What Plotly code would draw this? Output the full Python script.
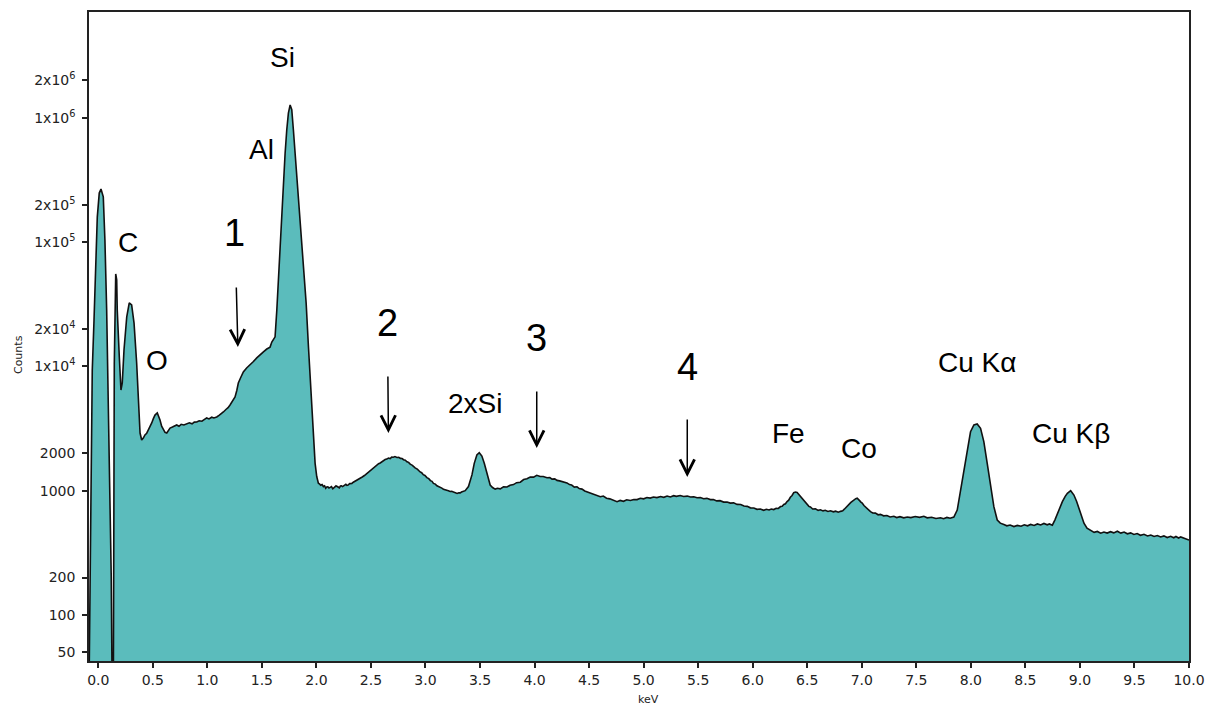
import plotly.graph_objects as go

# ---------------- data ----------------
# noise peak near 0 keV
zero_kev = [-0.086, -0.076, -0.067, -0.055, -0.039, -0.021, -0.009, 0.009, 0.025, 0.046,
            0.061, 0.077, 0.086, 0.098, 0.110, 0.119, 0.128, 0.138]
zero_cts = [20, 202, 1670, 9350, 23600, 86400, 159000, 248000, 267000, 231000,
            104000, 28400, 9350, 3510, 1010, 202, 20, 20]

# C, O, Al shoulder and Si peak
low_kev = [0.147, 0.160, 0.169, 0.174, 0.193, 0.208, 0.220, 0.236, 0.261, 0.284,
           0.306, 0.328, 0.352, 0.367, 0.383, 0.398, 0.413, 0.428, 0.444, 0.459,
           0.475, 0.490, 0.505, 0.520, 0.541, 0.556, 0.566, 0.581, 0.596, 0.612,
           0.628, 0.643, 0.658, 0.680, 0.700, 0.719, 0.740, 0.760, 0.785, 0.811,
           0.835, 0.860, 0.880, 0.903, 0.925, 0.950, 0.970, 0.994, 1.015, 1.040,
           1.060, 1.086, 1.110, 1.130, 1.147, 1.170, 1.190, 1.208, 1.230, 1.254,
           1.270, 1.284, 1.305, 1.330, 1.360, 1.392, 1.420, 1.453, 1.480, 1.514,
           1.545, 1.575, 1.591, 1.621, 1.637, 1.651, 1.667, 1.683, 1.697, 1.713,
           1.728, 1.743, 1.759, 1.774, 1.789, 1.805, 1.820, 1.850, 1.881, 1.906,
           1.927, 1.951, 1.972, 1.988]
low_cts = [10600, 55400, 49600, 28400, 11900, 6460, 7350, 13600, 25000, 32400,
           31200, 22300, 10650, 5080, 2910, 2560, 2650, 2810, 2900, 3080,
           3250, 3510, 3800, 4060, 4220, 3950, 3700, 3300, 3080, 2950,
           2910, 3050, 3190, 3250, 3300, 3380, 3300, 3420, 3380, 3440,
           3520, 3450, 3560, 3570, 3650, 3620, 3720, 3850, 3780, 3900,
           3850, 3920, 4050, 4150, 4300, 4500, 4650, 4890, 5200, 5670,
           6400, 7350, 8100, 9010, 9700, 10260, 10900, 11700, 12400, 13100,
           13800, 14300, 15700, 17300, 28400, 49600, 91700, 171000, 316000, 518000,
           798000, 1090000, 1270000, 1160000, 798000, 518000, 316000, 151000, 71800, 32200,
           14400, 6460, 3080, 1660]

# bumps 2 and 3, 2xSi peak
mid_kev = [2.003, 2.018, 2.030, 2.040, 2.052, 2.064, 2.075, 2.085, 2.095, 2.105,
           2.115, 2.126, 2.138, 2.150, 2.160, 2.170, 2.180, 2.187, 2.198, 2.210,
           2.220, 2.230, 2.240, 2.248, 2.260, 2.270, 2.280, 2.290, 2.305, 2.325,
           2.338, 2.350, 2.362, 2.375, 2.388, 2.401, 2.420, 2.440, 2.460, 2.477,
           2.495, 2.515, 2.535, 2.554, 2.570, 2.585, 2.600, 2.615, 2.630, 2.645,
           2.660, 2.676, 2.690, 2.705, 2.720, 2.738, 2.755, 2.770, 2.785, 2.799,
           2.815, 2.830, 2.845, 2.860, 2.880, 2.905, 2.925, 2.951, 2.965, 2.980,
           2.995, 3.013, 3.030, 3.045, 3.060, 3.073, 3.090, 3.105, 3.120, 3.135,
           3.150, 3.165, 3.180, 3.196, 3.210, 3.226, 3.240, 3.257, 3.275, 3.290,
           3.305, 3.318, 3.330, 3.345, 3.364, 3.394, 3.426, 3.447, 3.471, 3.493,
           3.517, 3.539, 3.563, 3.593, 3.615, 3.639, 3.660, 3.685, 3.715, 3.747,
           3.775, 3.807, 3.835, 3.869, 3.900, 3.930, 3.960, 3.991, 4.020, 4.052,
           4.080, 4.114, 4.140, 4.160, 4.185, 4.206, 4.230, 4.250, 4.275, 4.297,
           4.320, 4.340, 4.365, 4.389, 4.410, 4.435, 4.460, 4.481]
mid_cts = [1300, 1150, 1130, 1105, 1120, 1080, 1095, 1045, 1070, 1075,
           1050, 1065, 1080, 1035, 1060, 1070, 1095, 1085, 1065, 1055,
           1090, 1095, 1080, 1090, 1115, 1125, 1105, 1110, 1140, 1145,
           1170, 1185, 1200, 1215, 1245, 1260, 1290, 1325, 1370, 1410,
           1470, 1500, 1565, 1600, 1650, 1670, 1715, 1735, 1780, 1795,
           1830, 1815, 1865, 1860, 1880, 1850, 1855, 1820, 1815, 1775,
           1760, 1710, 1690, 1635, 1600, 1525, 1490, 1415, 1395, 1345,
           1325, 1275, 1250, 1205, 1190, 1145, 1130, 1095, 1085, 1060,
           1050, 1025, 1020, 1005, 1000, 985, 990, 975, 968, 950,
           962, 960, 975, 980, 1000, 1080, 1340, 1660, 1940, 2020,
           1900, 1660, 1380, 1110, 1060, 1030, 1045, 1035, 1075, 1070,
           1105, 1120, 1160, 1170, 1230, 1250, 1290, 1285, 1330, 1300,
           1300, 1270, 1275, 1240, 1245, 1210, 1200, 1185, 1160, 1155,
           1120, 1110, 1070, 1075, 1040, 1030, 995, 980]

# bump 4, Fe and Co peaks
high_kev = [4.510, 4.540, 4.570, 4.603, 4.630, 4.660, 4.690, 4.720, 4.756, 4.785,
            4.815, 4.845, 4.878, 4.910, 4.940, 4.970, 5.000, 5.030, 5.060, 5.090,
            5.122, 5.155, 5.185, 5.215, 5.245, 5.275, 5.300, 5.335, 5.367, 5.400,
            5.430, 5.460, 5.490, 5.520, 5.550, 5.580, 5.612, 5.640, 5.670, 5.700,
            5.734, 5.765, 5.795, 5.825, 5.857, 5.890, 5.920, 5.950, 5.979, 6.010,
            6.040, 6.070, 6.101, 6.125, 6.150, 6.170, 6.193, 6.215, 6.235, 6.255,
            6.270, 6.285, 6.300, 6.315, 6.330, 6.345, 6.361, 6.376, 6.392, 6.407,
            6.422, 6.445, 6.468, 6.485, 6.500, 6.515, 6.529, 6.550, 6.575, 6.600,
            6.621, 6.645, 6.665, 6.690, 6.713, 6.740, 6.760, 6.785, 6.805, 6.825,
            6.840, 6.855, 6.866, 6.885, 6.900, 6.915, 6.927, 6.945, 6.958, 6.970,
            6.980, 6.992, 7.004, 7.020, 7.040, 7.060, 7.080, 7.100, 7.125, 7.150,
            7.171, 7.200, 7.230, 7.260, 7.294, 7.320, 7.350, 7.385, 7.417, 7.450,
            7.490, 7.530, 7.569, 7.600, 7.640, 7.680, 7.722, 7.750, 7.780, 7.810,
            7.844]
high_cts = [965, 940, 925, 895, 905, 870, 860, 845, 816, 835,
            822, 845, 835, 850, 848, 870, 860, 882, 872, 890,
            880, 898, 885, 905, 890, 912, 900, 915, 898, 905,
            890, 895, 878, 882, 862, 868, 848, 850, 828, 832,
            810, 812, 795, 798, 776, 775, 752, 748, 728, 725,
            708, 712, 695, 708, 700, 712, 705, 722, 720, 745,
            750, 775, 785, 818, 838, 885, 915, 965, 975, 968,
            935, 895, 835, 800, 785, 748, 740, 712, 715, 695,
            702, 688, 695, 680, 690, 676, 685, 672, 682, 690,
            710, 735, 748, 780, 805, 825, 845, 862, 872, 855,
            832, 810, 795, 760, 728, 700, 678, 662, 660, 640,
            645, 628, 632, 615, 622, 608, 618, 605, 615, 608,
            620, 610, 622, 605, 612, 598, 605, 595, 610, 600,
            614]

# Cu K-alpha and K-beta peaks
cu_kev = [7.875, 7.906, 7.936, 7.967, 7.997, 8.028, 8.058, 8.089, 8.119, 8.150,
          8.180, 8.211, 8.242, 8.270, 8.303, 8.330, 8.360, 8.395, 8.426, 8.460,
          8.490, 8.520, 8.548, 8.580, 8.610, 8.640, 8.670, 8.700, 8.720, 8.747,
          8.770, 8.793, 8.815, 8.839, 8.865, 8.885, 8.915, 8.945, 8.970, 8.991,
          9.015, 9.037, 9.065, 9.098, 9.130, 9.160, 9.190, 9.220, 9.250, 9.280,
          9.310, 9.343, 9.375, 9.405, 9.435, 9.465, 9.495, 9.525, 9.555, 9.587,
          9.620, 9.650, 9.680, 9.710, 9.740, 9.770, 9.800, 9.832, 9.860, 9.880,
          9.905, 9.924, 9.960, 10.000]
cu_cts = [699, 1010, 1560, 2260, 2980, 3380, 3440, 3180, 2480, 1660,
          1080, 744, 581, 548, 535, 522, 530, 515, 526, 518,
          532, 522, 535, 525, 540, 530, 545, 532, 540, 528,
          580, 658, 735, 816, 900, 953, 1000, 923, 820, 722,
          620, 547, 500, 477, 462, 470, 455, 465, 456, 468,
          458, 472, 456, 465, 450, 458, 445, 452, 438, 446,
          432, 440, 428, 436, 425, 433, 420, 430, 418, 428,
          416, 425, 412, 401]

for a, b in [(zero_kev, zero_cts), (low_kev, low_cts), (mid_kev, mid_cts),
             (high_kev, high_cts), (cu_kev, cu_cts)]:
    assert len(a) == len(b), (len(a), len(b))

kev = zero_kev + low_kev + mid_kev + high_kev + cu_kev
counts = zero_cts + low_cts + mid_cts + high_cts + cu_cts

x_tick_vals = [0.0, 0.5, 1.0, 1.5, 2.0, 2.5, 3.0, 3.5, 4.0, 4.5, 5.0,
               5.5, 6.0, 6.5, 7.0, 7.5, 8.0, 8.5, 9.0, 9.5, 10.0]
x_tick_text = ["0.0", "0.5", "1.0", "1.5", "2.0", "2.5", "3.0", "3.5", "4.0", "4.5", "5.0",
               "5.5", "6.0", "6.5", "7.0", "7.5", "8.0", "8.5", "9.0", "9.5", "10.0"]
y_tick_vals = [50, 100, 200, 1000, 2000, 1e4, 2e4, 1e5, 2e5, 1e6, 2e6]
y_tick_text = ["50", "100", "200", "1000", "2000",
               "1x10<sup>4</sup>", "2x10<sup>4</sup>",
               "1x10<sup>5</sup>", "2x10<sup>5</sup>",
               "1x10<sup>6</sup>", "2x10<sup>6</sup>"]

# element labels: text, keV, log10(counts) position
label_text = ["Si", "Al", "C", "O", "2xSi", "Fe", "Co", "Cu K\u03b1", "Cu K\u03b2"]
label_kev = [1.686, 1.493, 0.273, 0.539, 3.456, 6.33, 6.97, 8.06, 8.915]
label_logy = [6.489, 5.741, 4.993, 4.051, 3.698, 3.464, 3.343, 4.035, 3.464]

# numbered regions: arrow tip (keV, log10 counts), text offset in px, gap above arrow
num_text = ["1", "2", "3", "4"]
arrow_kev = [1.28, 2.66, 4.02, 5.40]
arrow_tip_logy = [4.156, 3.464, 3.343, 3.110]
num_dx = [-3, -1, 0, 0]
num_dy = [-114, -110, -110, -110]
num_gap = [32, 31, 31, 30]

# ---------------- figure ----------------
fig = go.Figure()
fig.add_trace(go.Scatter(
    x=kev, y=counts, mode="lines",
    line=dict(color="#111111", width=1.6),
    fill="tozeroy", fillcolor="#5bbcbc",
    showlegend=False, hoverinfo="skip",
))

annots = []
for t, xv, yv in zip(label_text, label_kev, label_logy):
    annots.append(dict(x=xv, y=yv, xref="x", yref="y", text=t, showarrow=False,
                       font=dict(family="Liberation Sans, Arial", size=28, color="black"),
                       xanchor="center", yanchor="middle"))
for t, xv, yv, dx, dy, gap in zip(num_text, arrow_kev, arrow_tip_logy, num_dx, num_dy, num_gap):
    annots.append(dict(x=xv, y=yv, xref="x", yref="y", text=t, showarrow=True,
                       ax=dx, ay=dy, arrowhead=5, arrowsize=1.9, arrowwidth=1.5,
                       arrowcolor="black", standoff=0, startstandoff=gap,
                       font=dict(family="Liberation Sans, Arial", size=38, color="black")))
annots.append(dict(x=-0.0636, y=0.4715, xref="paper", yref="paper", text="Counts",
                   showarrow=False, textangle=-90,
                   font=dict(family="DejaVu Sans", size=11, color="#222"),
                   xanchor="center", yanchor="middle"))
annots.append(dict(x=0.509, y=-0.060, xref="paper", yref="paper", text="keV",
                   showarrow=False,
                   font=dict(family="DejaVu Sans", size=11, color="#222"),
                   xanchor="center", yanchor="middle"))

fig.update_layout(
    width=1209, height=709,
    margin=dict(l=89, r=20, t=12, b=48),
    paper_bgcolor="white", plot_bgcolor="white",
    annotations=annots,
    xaxis=dict(
        range=[-0.085, 10.0], tickvals=x_tick_vals, ticktext=x_tick_text,
        automargin=False,
        showgrid=False, zeroline=False,
        showline=True, linecolor="#222", linewidth=1.5, mirror=True,
        ticks="outside", ticklen=5, tickcolor="#222", tickwidth=1.5,
        tickfont=dict(family="DejaVu Sans", size=14, color="#222"),
    ),
    yaxis=dict(
        type="log", range=[1.630, 6.851], tickvals=y_tick_vals, ticktext=y_tick_text,
        automargin=False,
        showgrid=False, zeroline=False,
        showline=True, linecolor="#222", linewidth=1.5, mirror=True,
        ticks="outside", ticklen=5, tickcolor="#222", tickwidth=1.5,
        tickfont=dict(family="DejaVu Sans", size=14, color="#222"),
        ticklabelstandoff=4,
    ),
)

fig.write_html("out.html")
